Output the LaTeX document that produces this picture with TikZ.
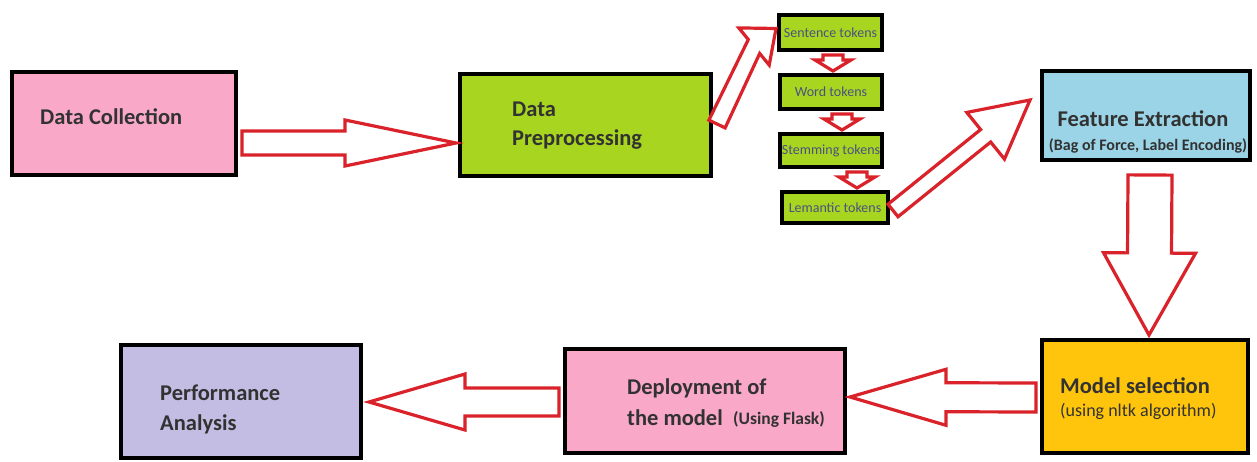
\documentclass[tikz,border=0pt]{standalone}
\usepackage{fontspec}
\setmainfont{Carlito}
\usetikzlibrary{calc}

\definecolor{boxpink}{RGB}{249,168,199}
\definecolor{boxlime}{RGB}{168,214,32}
\definecolor{boxblue}{RGB}{155,212,230}
\definecolor{boxgold}{RGB}{255,197,12}
\definecolor{boxlilac}{RGB}{196,189,227}
\definecolor{arrowred}{RGB}{218,34,42}
\definecolor{inkgray}{RGB}{50,50,50}
\definecolor{tokenink}{RGB}{72,82,128}

% hollow block arrow: start, head base, tip, shaft half width, head half width
\newcommand\bentblockarrow[5]{%
  \draw[hollow] ($(#1)!#4!90:(#2)$) -- ($(#2)!#4!90:(#3)$) -- ($(#2)!#5!90:(#3)$)
    -- (#3) -- ($(#2)!#5!-90:(#3)$) -- ($(#2)!#4!-90:(#3)$) -- ($(#1)!#4!-90:(#2)$) -- cycle;}
% straight hollow block arrow: start, tip, shaft half width, head half width, head length
\newcommand\blockarrow[5]{%
  \coordinate (headbase) at ($(#2)!#5!(#1)$);
  \bentblockarrow{#1}{headbase}{#2}{#3}{#4}}

\begin{document}
\begin{tikzpicture}[x=1pt, y=-1pt,
  stage/.style={draw=black, line width=4pt, inner sep=0pt},
  tokenbox/.style={draw=black, line width=4pt, fill=boxlime, inner sep=0pt,
    text=tokenink, font=\fontsize{14}{16}\selectfont},
  hollow/.style={draw=arrowred, line width=3.2pt, fill=white, line join=miter},
  bigtext/.style={text=inkgray, inner sep=0pt, font=\fontsize{22.5}{27}\selectfont\bfseries},
  smallbold/.style={text=inkgray, inner sep=0pt, font=\fontsize{16}{19}\selectfont\bfseries},
  smallplain/.style={text=inkgray, inner sep=0pt, font=\fontsize{18}{21}\selectfont}]

\fill[white] (0,0) rectangle (1257,462);
\useasboundingbox (0,0) rectangle (1257,462);

% stage boxes
\node[stage, fill=boxpink, minimum width=224pt, minimum height=103pt] (dc) at (124,123.5) {};
\node[stage, fill=boxlime, minimum width=251pt, minimum height=102pt] (dp) at (585.5,125) {};
\node[stage, fill=boxblue, minimum width=208pt, minimum height=89pt] (fe) at (1146,115.5) {};
\node[stage, fill=boxgold, minimum width=206pt, minimum height=113pt] (ms) at (1145,396.5) {};
\node[stage, fill=boxpink, minimum width=280pt, minimum height=104pt] (dep) at (705,401) {};
\node[stage, fill=boxlilac, minimum width=240pt, minimum height=113pt] (perf) at (241,401.5) {};

% token boxes
\node[tokenbox, minimum width=103pt, minimum height=35pt] (sent) at (830.5,32.5) {Sentence tokens};
\node[tokenbox, minimum width=102pt, minimum height=34pt] (word) at (831,92) {Word tokens};
\node[tokenbox, minimum width=102pt, minimum height=33pt] (stem) at (831,150.5) {Stemming tokens};
\node[tokenbox, minimum width=106pt, minimum height=31pt] (lem) at (835,207.5) {Lemantic tokens};

% box labels
\node[bigtext, anchor=base west] (dc-t) at (40,124.5) {Data Collection};
\node[bigtext, anchor=base west] (dp-t1) at (512,117) {Data};
\node[bigtext, anchor=base west] (dp-t2) at (512,146) {Preprocessing};
\node[bigtext, anchor=base] (fe-t1) at (1143,127) {Feature Extraction};
\node[smallbold, anchor=base] (fe-t2) at (1148,151) {(Bag of Force, Label Encoding)};
\node[bigtext, anchor=base west] (ms-t1) at (1060,393) {Model selection};
\node[smallplain, anchor=base west] (ms-t2) at (1060,416) {(using nltk algorithm)};
\node[bigtext, anchor=base west] (dep-t1) at (627,394) {Deployment of};
\node[bigtext, anchor=base west] (dep-t2) at (627,425) {the model};
\node[smallbold, font=\fontsize{17.5}{20}\selectfont\bfseries, anchor=base west] (dep-t3) at (733,424) {(Using Flask)};
\node[bigtext, anchor=base west] (perf-t1) at (160,400) {Performance};
\node[bigtext, anchor=base west] (perf-t2) at (160,430) {Analysis};

% arrow end points
\coordinate (a1) at ($(dc.east)+(4,19.5)$);
\coordinate (t1) at ($(dp.west)+(-2,18)$);
\coordinate (a2) at ($(dp.east)+(4,-1)$);
\coordinate (t2) at ($(sent.west)+(-1,-4)$);
\coordinate (h2) at ($(t2)+(-22,18)$);
\coordinate (a3) at ($(sent.south)+(2.5,3)$);
\coordinate (t3) at ($(word.north)+(2,-2)$);
\coordinate (a4) at ($(word.south)+(11,3)$);
\coordinate (t4) at ($(stem.north)+(11,-2)$);
\coordinate (a5) at ($(stem.south)+(26,3)$);
\coordinate (t5) at ($(lem.north)+(22,-2)$);
\coordinate (a6) at ($(lem.east)+(3,3)$);
\coordinate (t6) at ($(fe.west)+(-10,-15.5)$);
\coordinate (a7) at ($(fe.south)+(4,13)$);
\coordinate (t7) at ($(ms.north)+(4,-3)$);
\coordinate (a8) at ($(ms.west)+(-4,1)$);
\coordinate (t8) at ($(dep.east)+(3,-4)$);
\coordinate (a9) at ($(dep.west)+(-4,1)$);
\coordinate (t9) at ($(perf.east)+(6,0.5)$);

% hollow red arrows
\blockarrow{a1}{t1}{12pt}{23pt}{111pt}
\bentblockarrow{a2}{h2}{t2}{9pt}{24pt}
\blockarrow{a3}{t3}{10pt}{18pt}{11pt}
\blockarrow{a4}{t4}{10pt}{18pt}{11pt}
\blockarrow{a5}{t5}{10pt}{18pt}{11pt}
\blockarrow{a6}{t6}{8pt}{30pt}{57pt}
\blockarrow{a7}{t7}{22pt}{46pt}{82pt}
\blockarrow{a8}{t8}{14.5pt}{28pt}{96pt}
\blockarrow{a9}{t9}{14pt}{28pt}{96pt}

\end{tikzpicture}
\end{document}
